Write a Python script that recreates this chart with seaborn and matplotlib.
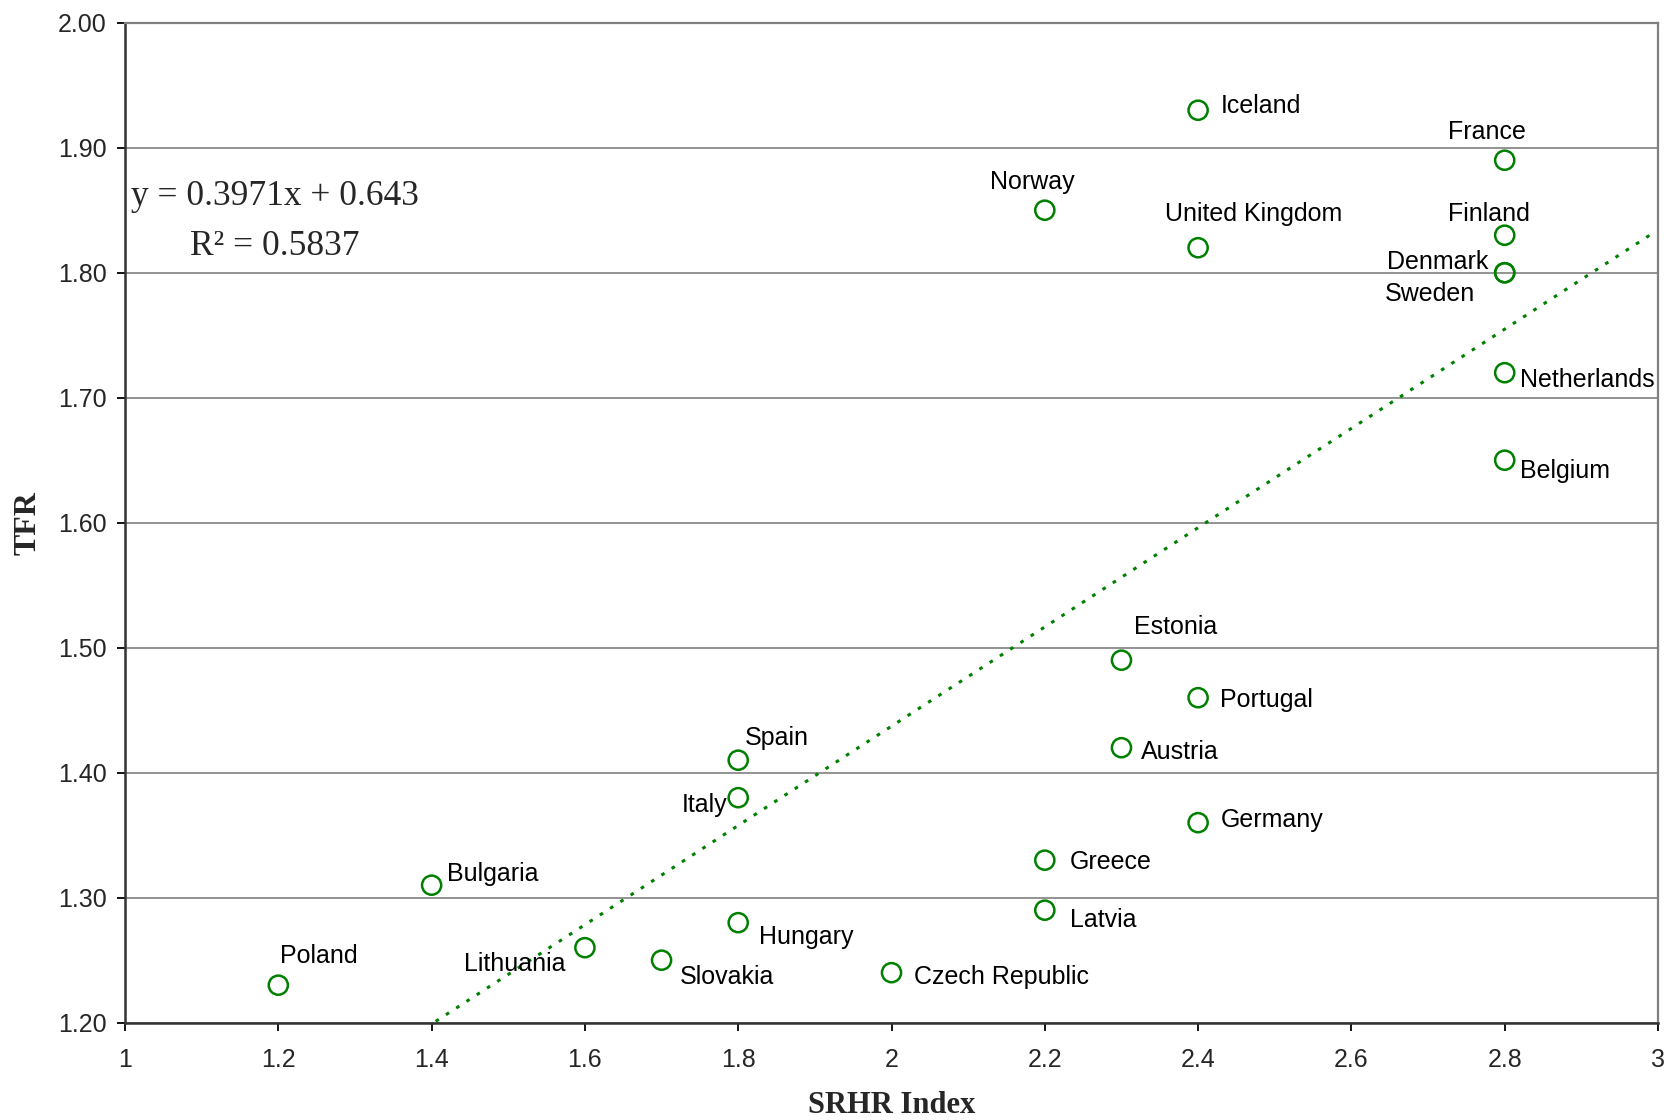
import numpy as np
import pandas as pd
import matplotlib
matplotlib.use("Agg")
import matplotlib.pyplot as plt
import seaborn as sns
from matplotlib.ticker import FormatStrFormatter, FuncFormatter

countries = ["Poland", "Bulgaria", "Lithuania", "Slovakia", "Hungary", "Italy", "Spain",
             "Czech Republic", "Greece", "Latvia", "Norway", "Estonia", "Austria",
             "Portugal", "Germany", "Iceland", "United Kingdom", "France", "Finland",
             "Denmark", "Sweden", "Netherlands", "Belgium"]
srhr = [1.2, 1.4, 1.6, 1.7, 1.8, 1.8, 1.8,
        2.0, 2.2, 2.2, 2.2, 2.3, 2.3,
        2.4, 2.4, 2.4, 2.4, 2.8, 2.8,
        2.8, 2.8, 2.8, 2.8]
tfr = [1.23, 1.31, 1.26, 1.25, 1.28, 1.38, 1.41,
       1.24, 1.33, 1.29, 1.85, 1.49, 1.42,
       1.46, 1.36, 1.93, 1.82, 1.89, 1.83,
       1.80, 1.80, 1.72, 1.65]

slope = 0.3971
intercept = 0.643
r_squared = 0.5837

x_ticks = [1, 1.2, 1.4, 1.6, 1.8, 2, 2.2, 2.4, 2.6, 2.8, 3]
y_ticks = [1.2, 1.3, 1.4, 1.5, 1.6, 1.7, 1.8, 1.9, 2.0]

# label placement: (dx, dy) in points from the marker, horizontal alignment
label_pos = {
    "Iceland": (16, 3, "left"),
    "France": (-13, 20, "center"),
    "Norway": (-9, 20, "center"),
    "United Kingdom": (40, 24, "center"),
    "Finland": (-11, 15, "center"),
    "Denmark": (-12, 8, "right"),
    "Sweden": (-86, -15, "left"),
    "Netherlands": (11, -5, "left"),
    "Belgium": (11, -8, "left"),
    "Estonia": (39, 24, "center"),
    "Portugal": (16, -2, "left"),
    "Austria": (14, -3, "left"),
    "Germany": (16, 2, "left"),
    "Greece": (18, -1, "left"),
    "Latvia": (18, -7, "left"),
    "Czech Republic": (16, -3, "left"),
    "Spain": (5, 16, "left"),
    "Italy": (-8, -5, "right"),
    "Hungary": (15, -10, "left"),
    "Slovakia": (13, -12, "left"),
    "Lithuania": (-14, -12, "right"),
    "Bulgaria": (11, 8, "left"),
    "Poland": (1, 21, "left"),
}

df = pd.DataFrame({"country": countries, "SRHR": srhr, "TFR": tfr})

sns.set_style("white")
plt.rcParams["font.family"] = ["Liberation Sans", "DejaVu Sans"]
serif = ["Liberation Serif", "DejaVu Serif"]

fig = plt.figure(figsize=(16.67, 11.2), dpi=100)
ax = fig.add_axes([0.075, 0.0869, 0.9196, 0.8928])

green = "#008000"
grid_c = "#808080"

# dotted linear trend
xs = np.linspace(1.2, 2.99, 200)
ax.plot(xs, slope * xs + intercept, linestyle=(0, (1.2, 2.8)), color=green,
        linewidth=2.2, zorder=2)

sns.scatterplot(data=df, x="SRHR", y="TFR", ax=ax, marker="o", s=190,
                facecolors="none", edgecolor=green, linewidth=1.8, zorder=3)

for c, x, y in zip(countries, srhr, tfr):
    dx, dy, ha = label_pos[c]
    ax.annotate(c, (x, y), xytext=(dx, dy), textcoords="offset points",
                ha=ha, va="center", fontsize=18, color="black")

ax.set_xlim(1, 3)
ax.set_ylim(1.2, 2.0)
ax.set_xticks(x_ticks)
ax.set_yticks(y_ticks)
ax.xaxis.set_major_formatter(FuncFormatter(lambda v, p: f"{v:g}"))
ax.yaxis.set_major_formatter(FormatStrFormatter("%.2f"))
ax.tick_params(axis="both", which="major", direction="out", length=6, width=1.3,
               color="black", labelsize=18, pad=7, left=True, bottom=True)
ax.tick_params(axis="x", pad=12)

ax.grid(axis="y", color=grid_c, linewidth=1.2)
ax.grid(axis="x", visible=False)
ax.set_axisbelow(True)

for side in ["left", "bottom"]:
    ax.spines[side].set_color("#333333")
    ax.spines[side].set_linewidth(1.8)
for side in ["top", "right"]:
    ax.spines[side].set_color(grid_c)
    ax.spines[side].set_linewidth(1.6)

ax.set_xlabel("SRHR Index", fontsize=22, fontweight="bold", family=serif, labelpad=14)
ax.set_ylabel("TFR", fontsize=23, fontweight="bold", family=serif, labelpad=11)

ax.text(0.0978, 0.826, f"y = {slope}x + {intercept}", transform=ax.transAxes,
        ha="center", va="center", fontsize=25.5, family=serif)
ax.text(0.0978, 0.776, f"R² = {r_squared}", transform=ax.transAxes,
        ha="center", va="center", fontsize=25.5, family=serif)

fig.savefig("out.png", dpi=100)
